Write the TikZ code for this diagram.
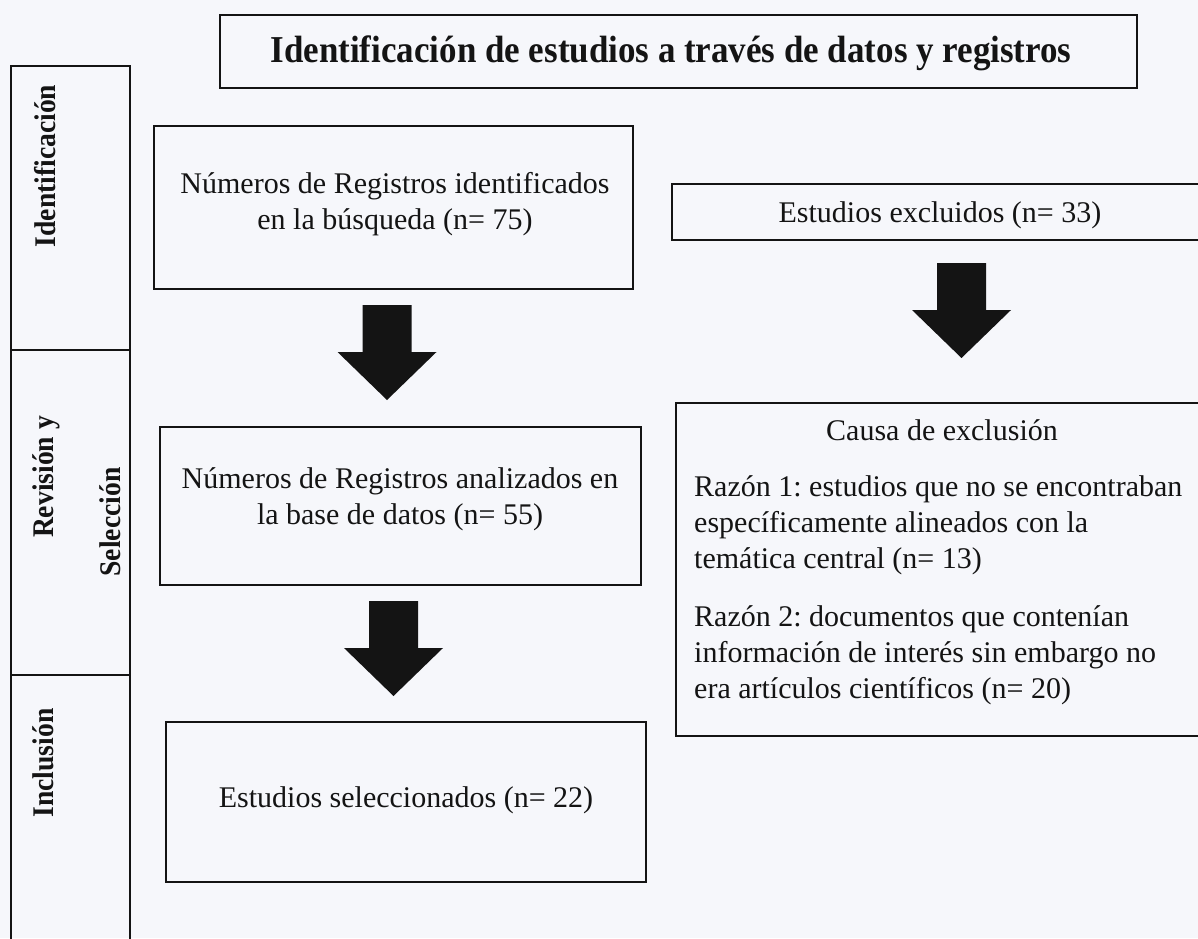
\documentclass[tikz,border=0pt]{standalone}
\usepackage{fontspec}
\setmainfont{Liberation Serif}
\newfontfamily\condserif[FakeStretch=0.92]{Liberation Serif}
\definecolor{bg}{HTML}{F6F7FB}
\definecolor{ink}{HTML}{141414}
\frenchspacing
\begin{document}
\begin{tikzpicture}[x=1pt,y=-1pt,
  box/.style={draw=ink, line width=1.6pt, rectangle, inner sep=0pt},
  txt/.style={font=\fontsize{30}{36}\selectfont\frenchspacing, text=ink, inner sep=0pt, align=center},
  titletxt/.style={font=\condserif\bfseries\fontsize{38}{44}\selectfont, text=ink, inner sep=0pt},
  sidetxt/.style={font=\condserif\bfseries\fontsize{30}{36}\selectfont, text=ink, inner sep=0pt, rotate=90, anchor=base},
  lane/.style={draw=ink, line width=1.6pt},
  downarrow/.pic={\fill[ink] (-24.5,0) -- (24.5,0) -- (24.5,47) -- (49.5,47) -- (0,95) -- (-49.5,47) -- (-24.5,47) -- cycle;}
]
\useasboundingbox (0,0) rectangle (1198,938);
\clip (0,0) rectangle (1198,938);
\fill[bg] (0,0) rectangle (1198,938);

% side lanes
\draw[lane] (11,66) rectangle (130,960);
\draw[lane] (11,350) -- (130,350);
\draw[lane] (11,675) -- (130,675);
\node[sidetxt] (lab1) at (55,166) {Identificación};
\node[sidetxt] (lab2a) at (53,477) {Revisión y};
\node[sidetxt] (lab2b) at (120,522) {Selección};
\node[sidetxt] (lab3) at (53,763) {Inclusión};

% title
\node[box, minimum width=917pt, minimum height=73pt] (titlebox) at (678.5,51.5) {};
\node[titletxt, anchor=base] (title) at (671,62) {Identificación de estudios a través de datos y registros};

% left column
\node[box, minimum width=479pt, minimum height=163pt] (b1) at (393.5,207.5) {};
\node[txt, anchor=base] (t1) at (395,229) {Números de Registros identificados\\en la búsqueda (n= 75)};
\node[box, minimum width=481pt, minimum height=158pt] (b2) at (400.5,506) {};
\node[txt, anchor=base] (t2) at (400,524) {Números de Registros analizados en\\la base de datos (n= 55)};
\node[box, minimum width=480pt, minimum height=160pt] (b3) at (406,802) {};
\node[txt, anchor=base] (t3) at (406,807) {Estudios seleccionados (n= 22)};

% right column
\node[box, minimum width=533pt, minimum height=56pt] (e1) at (938.5,212) {};
\node[txt, anchor=base] (te1) at (940,222) {Estudios excluidos (n= 33)};
\node[box, minimum width=529pt, minimum height=333pt] (e2) at (940.5,569.5) {};
\node[txt, anchor=base] (causa) at (942,440) {Causa de exclusión};
\node[txt, align=left, anchor=base west] (r1) at (694,568) {Razón 1: estudios que no se encontraban\\específicamente alineados con la\\temática central (n= 13)};
\node[txt, align=left, anchor=base west] (r2) at (694,698) {Razón 2: documentos que contenían\\información de interés sin embargo no\\era artículos científicos (n= 20)};

% block arrows
\coordinate (a1) at (387,305);
\coordinate (a2) at (393.5,601);
\coordinate (a3) at (961.5,263);
\pic at (a1) {downarrow};
\pic at (a2) {downarrow};
\pic at (a3) {downarrow};
\end{tikzpicture}
\end{document}
